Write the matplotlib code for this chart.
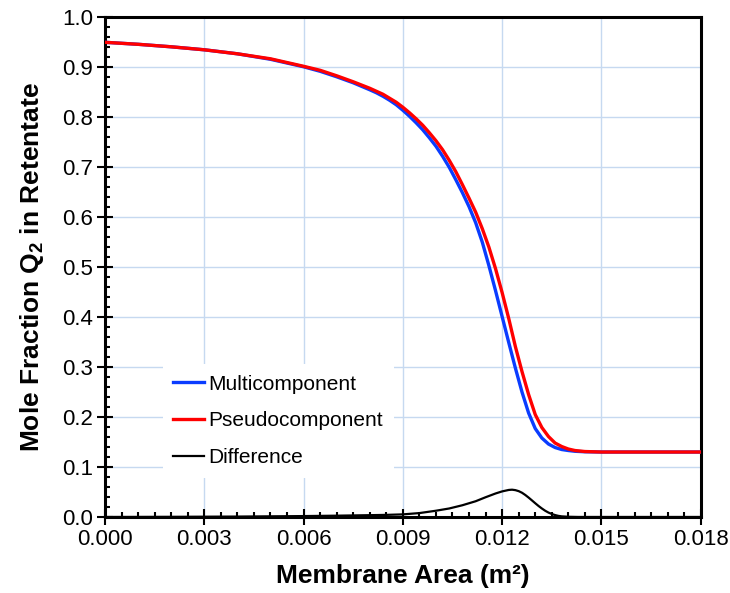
import matplotlib
matplotlib.use("Agg")
import matplotlib.pyplot as plt
from matplotlib.ticker import MultipleLocator, FormatStrFormatter

# values
multi_x = [0.0, 0.001, 0.002, 0.003, 0.004, 0.005, 0.006, 0.0065, 0.007, 0.0075,
           0.0080, 0.0082, 0.0084, 0.0086, 0.0088, 0.0090, 0.0092, 0.0094, 0.0096,
           0.0098, 0.0100, 0.0102, 0.0104, 0.0106, 0.0108, 0.0110, 0.0112, 0.0114,
           0.0116, 0.0118, 0.0120, 0.0122, 0.0124, 0.0126, 0.0128, 0.0130, 0.0132,
           0.0134, 0.0136, 0.0138, 0.0140, 0.0142, 0.0145, 0.0150, 0.0160, 0.0180]
multi_y = [0.950, 0.946, 0.941, 0.935, 0.927, 0.916, 0.901, 0.892, 0.881, 0.869,
           0.855, 0.849, 0.842, 0.834, 0.825, 0.814, 0.802, 0.789, 0.775,
           0.759, 0.742, 0.722, 0.700, 0.675, 0.649, 0.621, 0.589, 0.550,
           0.503, 0.453, 0.401, 0.349, 0.298, 0.250, 0.208, 0.177, 0.158,
           0.146, 0.139, 0.135, 0.133, 0.1315, 0.1305, 0.130, 0.130, 0.130]

pseudo_x = [0.0, 0.001, 0.002, 0.003, 0.004, 0.005, 0.006, 0.0065, 0.007, 0.0075,
            0.0080, 0.0082, 0.0084, 0.0086, 0.0088, 0.0090, 0.0092, 0.0094, 0.0096,
            0.0098, 0.0100, 0.0102, 0.0104, 0.0106, 0.0108, 0.0110, 0.0112, 0.0114,
            0.0116, 0.0118, 0.0120, 0.0122, 0.0124, 0.0126, 0.0128, 0.0130, 0.0132,
            0.0134, 0.0136, 0.0138, 0.0140, 0.0142, 0.0145, 0.0150, 0.0160, 0.0180]
pseudo_y = [0.950, 0.946, 0.941, 0.935, 0.927, 0.917, 0.902, 0.894, 0.883, 0.871,
            0.858, 0.852, 0.846, 0.838, 0.830, 0.820, 0.809, 0.797, 0.784,
            0.769, 0.753, 0.735, 0.714, 0.691, 0.665, 0.638, 0.610, 0.577,
            0.540, 0.497, 0.449, 0.397, 0.341, 0.291, 0.245, 0.205, 0.179,
            0.161, 0.148, 0.141, 0.136, 0.133, 0.131, 0.130, 0.130, 0.130]

diff_x = [0.0, 0.002, 0.004, 0.006, 0.007, 0.008, 0.0085, 0.009, 0.0095, 0.0100,
          0.0104, 0.0108, 0.0112, 0.0115, 0.0118, 0.0120, 0.0122, 0.0123, 0.0124,
          0.0125, 0.0126, 0.0127, 0.0128, 0.0129, 0.0130, 0.0131, 0.0132, 0.0133,
          0.0134, 0.0135, 0.0136, 0.0137, 0.0138, 0.0140, 0.0143, 0.0180]
diff_y = [0.0, 0.0003, 0.0008, 0.0018, 0.0026, 0.0036, 0.0042, 0.0052, 0.0078, 0.0125,
          0.0170, 0.0235, 0.0315, 0.0395, 0.0470, 0.0512, 0.0541, 0.0546, 0.0537,
          0.0517, 0.0485, 0.0440, 0.0388, 0.0332, 0.0275, 0.0220, 0.0170, 0.0125,
          0.0088, 0.0060, 0.0038, 0.0022, 0.0012, 0.0004, 0.0, 0.0]

labels = ["Multicomponent", "Pseudocomponent", "Difference"]

plt.rcParams["font.family"] = ["Liberation Sans", "DejaVu Sans"]
plt.rcParams["mathtext.fontset"] = "custom"
plt.rcParams["mathtext.rm"] = "Liberation Sans"
plt.rcParams["mathtext.bf"] = "Liberation Sans:bold"

fig, ax = plt.subplots(figsize=(7.3, 5.93), dpi=100)
fig.subplots_adjust(left=0.1438, right=0.9599, top=0.9708, bottom=0.1282)

grid_color = "#c6d9f0"
ax.grid(True, which="major", color=grid_color, linewidth=1.0, zorder=0)
ax.set_axisbelow(True)

ax.plot(multi_x, multi_y, color="#0a3cff", linewidth=2.4, label=labels[0], zorder=3)
ax.plot(pseudo_x, pseudo_y, color="#ff0000", linewidth=2.4, label=labels[1], zorder=4)
ax.plot(diff_x, diff_y, color="black", linewidth=1.6, label=labels[2], zorder=5)

ax.set_xlim(0, 0.018)
ax.set_ylim(0, 1.0)
ax.xaxis.set_major_locator(MultipleLocator(0.003))
ax.xaxis.set_minor_locator(MultipleLocator(0.0005))
ax.yaxis.set_major_locator(MultipleLocator(0.1))
ax.yaxis.set_minor_locator(MultipleLocator(0.02))
ax.xaxis.set_major_formatter(FormatStrFormatter("%.3f"))
ax.yaxis.set_major_formatter(FormatStrFormatter("%.1f"))

ax.tick_params(which="major", direction="inout", length=11, width=1.5,
               labelsize=16, pad=3)
ax.tick_params(which="minor", direction="in", length=3.6, width=1.5)
for s in ax.spines.values():
    s.set_linewidth(2.2)

ax.set_xlabel("Membrane Area (m\u00b2)", fontsize=19, fontweight="bold", labelpad=10)
ax.set_ylabel(r"Mole Fraction Q$_{\mathbf{2}}$ in Retentate", fontsize=19,
              fontweight="bold", labelpad=12)

leg = ax.legend(loc="lower left", bbox_to_anchor=(0.097, 0.079), fontsize=15,
                frameon=True, fancybox=False, borderaxespad=0, borderpad=0.5,
                handlelength=1.5, handletextpad=0.2, labelspacing=0.85)
leg.get_frame().set_facecolor("white")
leg.get_frame().set_edgecolor("none")
leg.get_frame().set_alpha(1.0)
leg.set_zorder(2)

plt.savefig("out.png", dpi=100)
